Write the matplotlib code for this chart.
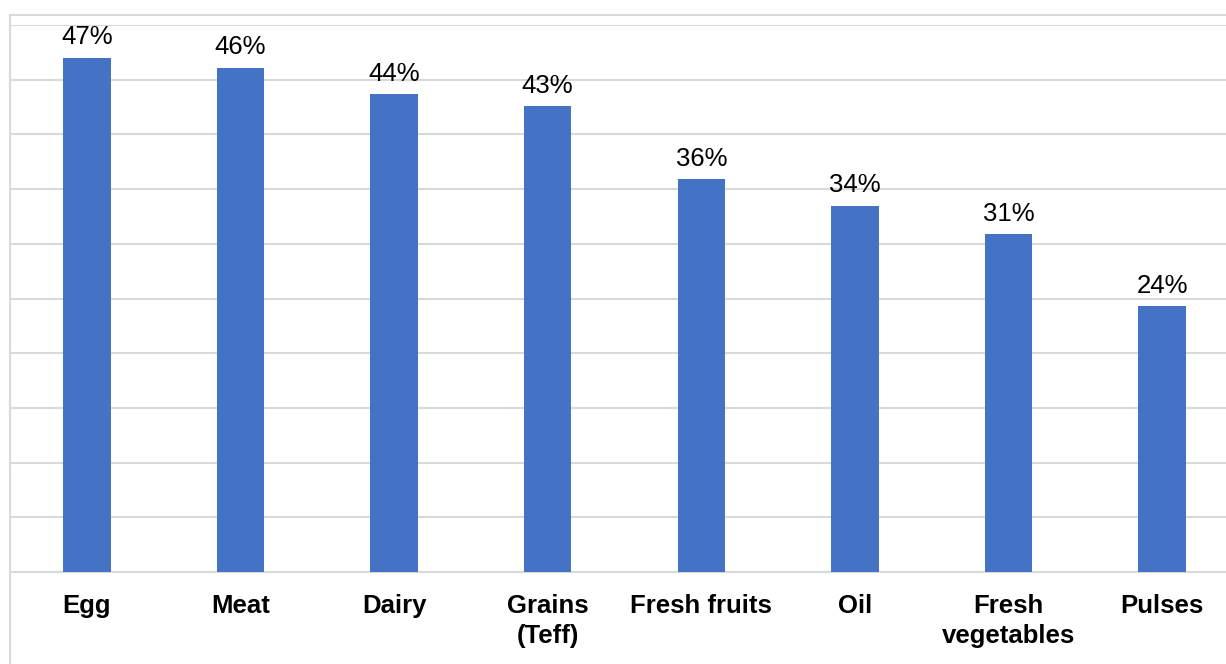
import matplotlib.pyplot as plt
from matplotlib.patches import Rectangle

categories = ['Egg', 'Meat', 'Dairy', 'Grains\n(Teff)', 'Fresh fruits', 'Oil', 'Fresh\nvegetables', 'Pulses']
shares = [47.0, 46.1, 43.7, 42.6, 35.9, 33.5, 30.9, 24.3]

plt.rcParams['font.family'] = ['Liberation Sans', 'DejaVu Sans']

fig = plt.figure(figsize=(12.26, 6.64), dpi=100)
W, H = 1226, 664

# outer chart frame (runs off the right and bottom edges)
fig.patches.append(Rectangle((10 / W, -0.1), 1.2, (H - 15) / H + 0.1,
                             transform=fig.transFigure, fill=False,
                             edgecolor='#d9d9d9', linewidth=1.5))

ax = fig.add_axes([10 / W, (H - 572) / H, 1229 / W, 547 / H])
x = range(len(categories))
bars = ax.bar(x, shares, width=0.31, color='#4472C4', zorder=3)

for b, v in zip(bars, shares):
    ax.annotate(f'{v:.0f}%', (b.get_x() + b.get_width() / 2, v),
                xytext=(0, 6), textcoords='offset points',
                ha='center', va='bottom', fontsize=18.5, color='black')

ax.set_xlim(-0.5, len(categories) - 0.5)
ax.set_ylim(0, 50)
ax.set_yticks(range(0, 51, 5))
ax.yaxis.grid(True, color='#d9d9d9', linewidth=1.5, zorder=0)
ax.tick_params(axis='y', left=False, labelleft=False)
ax.tick_params(axis='x', length=0, pad=16)
ax.set_xticks(list(x))
ax.set_xticklabels(categories, fontsize=18.5, fontweight='bold', linespacing=1.3)
for s in ['top', 'right', 'left']:
    ax.spines[s].set_visible(False)
ax.spines['bottom'].set_color('#d9d9d9')
ax.spines['bottom'].set_linewidth(1.5)

fig.savefig('out.png', dpi=100)
